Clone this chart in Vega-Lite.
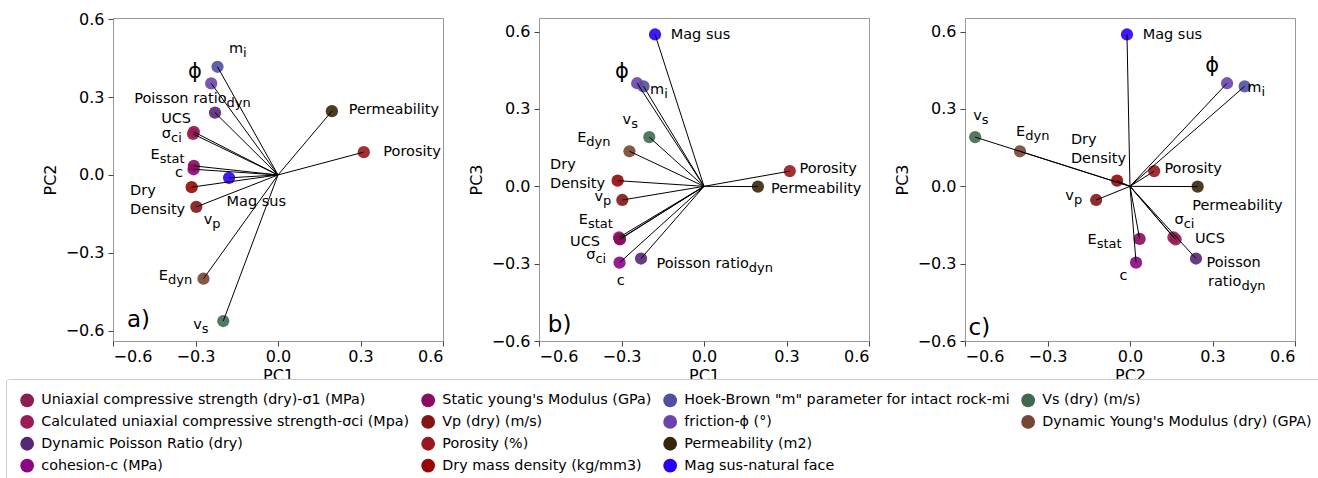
{
  "$schema": "https://vega.github.io/schema/vega-lite/v6.json",
  "autosize": {"type": "pad"},
  "padding": {"left": 5, "top": 10, "right": 5, "bottom": 0},
  "background": "white",
  "config": {
    "font": "DejaVu Sans",
    "view": {"stroke": "#999999", "strokeWidth": 1},
    "axis": {
      "labelFont": "DejaVu Sans", "labelFontSize": 16, "labelColor": "black",
      "titleFont": "DejaVu Sans", "titleFontSize": 16, "titleFontWeight": "normal", "titleColor": "black",
      "tickColor": "#444444", "tickSize": 5, "domain": false, "grid": false
    },
    "axisX": {"labelPadding": 2, "titlePadding": 3},
    "axisY": {"labelPadding": 4, "titlePadding": 7},
    "text": {"font": "DejaVu Sans", "color": "black"}
  },
  "datasets": {
    "pts": [
      {"name": "Uniaxial compressive strength (dry)-σ1 (MPa)", "PC1": -0.306, "PC2": 0.166, "PC3": -0.206},
      {"name": "Calculated uniaxial compressive strength-σci (Mpa)", "PC1": -0.309, "PC2": 0.158, "PC3": -0.198},
      {"name": "Dynamic Poisson Ratio (dry)", "PC1": -0.229, "PC2": 0.240, "PC3": -0.280},
      {"name": "cohesion-c (MPa)", "PC1": -0.307, "PC2": 0.022, "PC3": -0.296},
      {"name": "Static young's Modulus (GPa)", "PC1": -0.306, "PC2": 0.035, "PC3": -0.204},
      {"name": "Vp (dry) (m/s)", "PC1": -0.297, "PC2": -0.123, "PC3": -0.053},
      {"name": "Porosity (%)", "PC1": 0.312, "PC2": 0.088, "PC3": 0.059},
      {"name": "Dry mass density (kg/mm3)", "PC1": -0.314, "PC2": -0.047, "PC3": 0.022},
      {"name": "Hoek-Brown \"m\" parameter for intact rock-mi", "PC1": -0.220, "PC2": 0.417, "PC3": 0.388},
      {"name": "friction-ϕ (°)", "PC1": -0.243, "PC2": 0.353, "PC3": 0.400},
      {"name": "Permeability (m2)", "PC1": 0.196, "PC2": 0.246, "PC3": -0.001},
      {"name": "Mag sus-natural face", "PC1": -0.178, "PC2": -0.011, "PC3": 0.589},
      {"name": "Vs (dry) (m/s)", "PC1": -0.199, "PC2": -0.563, "PC3": 0.191},
      {"name": "Dynamic Young's Modulus (dry) (GPA)", "PC1": -0.271, "PC2": -0.400, "PC3": 0.136}
    ],
    "labs": [
      {"p": "a", "main": "m", "sub": "i", "lx": -0.127, "ly": 0.472},
      {"p": "a", "sym": "ϕ", "lx": -0.327, "ly": 0.375},
      {"p": "a", "main": "Poisson ratio", "sub": "dyn", "lx": -0.187, "ly": 0.277},
      {"p": "a", "plain": "UCS", "lx": -0.425, "ly": 0.2},
      {"p": "a", "main": "σ", "sub": "ci", "lx": -0.389, "ly": 0.141},
      {"p": "a", "main": "E", "sub": "stat", "lx": -0.430, "ly": 0.062},
      {"p": "a", "plain": "c", "lx": -0.375, "ly": -0.009},
      {"p": "a", "plain": "Dry\nDensity", "lx": -0.538, "ly": -0.076},
      {"p": "a", "plain": "Mag sus", "lx": -0.187, "ly": -0.118},
      {"p": "a", "main": "v", "sub": "p", "lx": -0.239, "ly": -0.188},
      {"p": "a", "main": "E", "sub": "dyn", "lx": -0.40, "ly": -0.404},
      {"p": "a", "main": "v", "sub": "s", "lx": -0.277, "ly": -0.592},
      {"p": "a", "plain": "Permeability", "lx": 0.257, "ly": 0.235},
      {"p": "a", "plain": "Porosity", "lx": 0.383, "ly": 0.074},
      {"p": "a", "tag": "a)", "lx": -0.549, "ly": -0.585},
      {"p": "b", "plain": "Mag sus", "lx": -0.121, "ly": 0.570},
      {"p": "b", "sym": "ϕ", "lx": -0.324, "ly": 0.422},
      {"p": "b", "main": "m", "sub": "i", "lx": -0.145, "ly": 0.360},
      {"p": "b", "main": "v", "sub": "s", "lx": -0.265, "ly": 0.243},
      {"p": "b", "main": "E", "sub": "dyn", "lx": -0.428, "ly": 0.171},
      {"p": "b", "plain": "Dry\nDensity", "lx": -0.56, "ly": 0.067},
      {"p": "b", "main": "v", "sub": "p", "lx": -0.367, "ly": -0.056},
      {"p": "b", "main": "E", "sub": "stat", "lx": -0.422, "ly": -0.147},
      {"p": "b", "plain": "UCS", "lx": -0.487, "ly": -0.232},
      {"p": "b", "main": "σ", "sub": "ci", "lx": -0.395, "ly": -0.282},
      {"p": "b", "plain": "c", "lx": -0.317, "ly": -0.381},
      {"p": "b", "main": "Poisson ratio", "sub": "dyn", "lx": 0.163, "ly": -0.316},
      {"p": "b", "plain": "Porosity", "lx": 0.347, "ly": 0.051},
      {"p": "b", "plain": "Permeability", "lx": 0.244, "ly": -0.027},
      {"p": "b", "tag": "b)", "lx": -0.568, "ly": -0.566},
      {"p": "c", "plain": "Mag sus", "lx": 0.046, "ly": 0.570},
      {"p": "c", "sym": "ϕ", "lx": 0.274, "ly": 0.442},
      {"p": "c", "main": "m", "sub": "i", "lx": 0.478, "ly": 0.364},
      {"p": "c", "main": "v", "sub": "s", "lx": -0.539, "ly": 0.256},
      {"p": "c", "main": "E", "sub": "dyn", "lx": -0.381, "ly": 0.197},
      {"p": "c", "plain": "Dry\nDensity", "lx": -0.215, "ly": 0.165},
      {"p": "c", "plain": "Porosity", "lx": 0.125, "ly": 0.052},
      {"p": "c", "plain": "Permeability", "lx": 0.226, "ly": -0.091},
      {"p": "c", "main": "v", "sub": "p", "lx": -0.204, "ly": -0.053},
      {"p": "c", "main": "σ", "sub": "ci", "lx": 0.195, "ly": -0.147},
      {"p": "c", "plain": "UCS", "lx": 0.236, "ly": -0.221},
      {"p": "c", "main": "E", "sub": "stat", "lx": -0.121, "ly": -0.225},
      {"p": "c", "plain": "c", "lx": -0.038, "ly": -0.364},
      {"p": "c", "plain": "Poisson", "lx": 0.278, "ly": -0.312},
      {"p": "c", "main": "ratio", "sub": "dyn", "lx": 0.405, "ly": -0.387},
      {"p": "c", "tag": "c)", "lx": -0.587, "ly": -0.575}
    ]
  },
  "bounds": "flush",
  "spacing": 96,
  "resolve": {"scale": {"color": "shared"}},
  "hconcat": [
    {
      "width": 330, "height": 323,
      "layer": [
        {"data": {"name": "pts"}, "mark": {"type": "circle", "size": 150, "opacity": 0.9},
          "encoding": {
            "x": {"field": "PC1", "type": "quantitative", "title": "PC1", "scale": {"domain": [-0.6, 0.6], "nice": false, "zero": false}, "axis": {"values": [-0.6, -0.3, 0, 0.3, 0.6], "format": ".1f"}},
            "y": {"field": "PC2", "type": "quantitative", "title": "PC2", "scale": {"domain": [-0.64, 0.605], "nice": false, "zero": false}, "axis": {"values": [-0.6, -0.3, 0, 0.3, 0.6], "format": ".1f"}},
            "color": {"field": "name", "type": "nominal", "title": null,
              "scale": {"domain": ["Uniaxial compressive strength (dry)-σ1 (MPa)", "Calculated uniaxial compressive strength-σci (Mpa)", "Dynamic Poisson Ratio (dry)", "cohesion-c (MPa)", "Static young's Modulus (GPa)", "Vp (dry) (m/s)", "Porosity (%)", "Dry mass density (kg/mm3)", "Hoek-Brown \"m\" parameter for intact rock-mi", "friction-ϕ (°)", "Permeability (m2)", "Mag sus-natural face", "Vs (dry) (m/s)", "Dynamic Young's Modulus (dry) (GPA)", "_b1", "_b2"],
                "range": ["#8b1f52", "#981c58", "#552878", "#8c0584", "#8c0a62", "#821616", "#981820", "#960808", "#5050a2", "#6a44ac", "#38260a", "#2a00f5", "#3f6a50", "#784634", "rgba(0,0,0,0)", "rgba(0,0,0,0)"]},
              "legend": {"orient": "none", "legendX": -107, "legendY": 361, "columns": 4, "symbolType": "circle", "symbolSize": 190, "symbolOpacity": 1, "symbolStrokeWidth": 0, "labelFont": "DejaVu Sans", "labelFontSize": 14.3, "labelColor": "black", "labelLimit": 600, "labelOffset": 7, "padding": 14, "rowPadding": 6.8, "columnPadding": 11, "strokeColor": "#cccccc", "fillColor": "white", "cornerRadius": 3, "labelExpr": "indexof(datum.label, '_b') === 0 ? '' : datum.label"}}
          }},
        {"data": {"name": "pts"}, "mark": {"type": "rule", "color": "black", "strokeWidth": 1},
          "encoding": {"x": {"field": "PC1", "type": "quantitative", "title": "PC1"}, "y": {"field": "PC2", "type": "quantitative", "title": "PC2"}, "x2": {"datum": 0}, "y2": {"datum": 0}}},
        {"data": {"name": "labs"}, "transform": [{"filter": "datum.p === 'a' && isValid(datum.main)"}], "mark": {"type": "text", "align": "right", "baseline": "alphabetic", "fontSize": 14.5},
          "encoding": {"x": {"field": "lx", "type": "quantitative", "title": "PC1"}, "y": {"field": "ly", "type": "quantitative", "title": "PC2"}, "text": {"field": "main", "type": "nominal"}}},
        {"data": {"name": "labs"}, "transform": [{"filter": "datum.p === 'a' && isValid(datum.sub)"}], "mark": {"type": "text", "align": "left", "baseline": "alphabetic", "fontSize": 13, "dy": 4},
          "encoding": {"x": {"field": "lx", "type": "quantitative", "title": "PC1"}, "y": {"field": "ly", "type": "quantitative", "title": "PC2"}, "text": {"field": "sub", "type": "nominal"}}},
        {"data": {"name": "labs"}, "transform": [{"filter": "datum.p === 'a' && isValid(datum.plain)"}], "mark": {"type": "text", "align": "left", "baseline": "alphabetic", "fontSize": 14.5, "lineBreak": "\n", "lineHeight": 19},
          "encoding": {"x": {"field": "lx", "type": "quantitative", "title": "PC1"}, "y": {"field": "ly", "type": "quantitative", "title": "PC2"}, "text": {"field": "plain", "type": "nominal"}}},
        {"data": {"name": "labs"}, "transform": [{"filter": "datum.p === 'a' && isValid(datum.sym)"}], "mark": {"type": "text", "align": "left", "baseline": "alphabetic", "fontSize": 21},
          "encoding": {"x": {"field": "lx", "type": "quantitative", "title": "PC1"}, "y": {"field": "ly", "type": "quantitative", "title": "PC2"}, "text": {"field": "sym", "type": "nominal"}}},
        {"data": {"name": "labs"}, "transform": [{"filter": "datum.p === 'a' && isValid(datum.tag)"}], "mark": {"type": "text", "align": "left", "baseline": "alphabetic", "fontSize": 23},
          "encoding": {"x": {"field": "lx", "type": "quantitative", "title": "PC1"}, "y": {"field": "ly", "type": "quantitative", "title": "PC2"}, "text": {"field": "tag", "type": "nominal"}}}
      ]
    },
    {
      "width": 330, "height": 323,
      "layer": [
        {"data": {"name": "pts"}, "mark": {"type": "circle", "size": 150, "opacity": 0.9},
          "encoding": {
            "x": {"field": "PC1", "type": "quantitative", "title": "PC1", "scale": {"domain": [-0.6, 0.6], "nice": false, "zero": false}, "axis": {"values": [-0.6, -0.3, 0, 0.3, 0.6], "format": ".1f"}},
            "y": {"field": "PC3", "type": "quantitative", "title": "PC3", "scale": {"domain": [-0.6, 0.653], "nice": false, "zero": false}, "axis": {"values": [-0.6, -0.3, 0, 0.3, 0.6], "format": ".1f"}},
            "color": {"field": "name", "type": "nominal", "title": null,
              "scale": {"domain": ["Uniaxial compressive strength (dry)-σ1 (MPa)", "Calculated uniaxial compressive strength-σci (Mpa)", "Dynamic Poisson Ratio (dry)", "cohesion-c (MPa)", "Static young's Modulus (GPa)", "Vp (dry) (m/s)", "Porosity (%)", "Dry mass density (kg/mm3)", "Hoek-Brown \"m\" parameter for intact rock-mi", "friction-ϕ (°)", "Permeability (m2)", "Mag sus-natural face", "Vs (dry) (m/s)", "Dynamic Young's Modulus (dry) (GPA)", "_b1", "_b2"],
                "range": ["#8b1f52", "#981c58", "#552878", "#8c0584", "#8c0a62", "#821616", "#981820", "#960808", "#5050a2", "#6a44ac", "#38260a", "#2a00f5", "#3f6a50", "#784634", "rgba(0,0,0,0)", "rgba(0,0,0,0)"]},
              "legend": {"orient": "none", "legendX": -107, "legendY": 361, "columns": 4, "symbolType": "circle", "symbolSize": 190, "symbolOpacity": 1, "symbolStrokeWidth": 0, "labelFont": "DejaVu Sans", "labelFontSize": 14.3, "labelColor": "black", "labelLimit": 600, "labelOffset": 7, "padding": 14, "rowPadding": 6.8, "columnPadding": 11, "strokeColor": "#cccccc", "fillColor": "white", "cornerRadius": 3, "labelExpr": "indexof(datum.label, '_b') === 0 ? '' : datum.label"}}
          }},
        {"data": {"name": "pts"}, "mark": {"type": "rule", "color": "black", "strokeWidth": 1},
          "encoding": {"x": {"field": "PC1", "type": "quantitative", "title": "PC1"}, "y": {"field": "PC3", "type": "quantitative", "title": "PC3"}, "x2": {"datum": 0}, "y2": {"datum": 0}}},
        {"data": {"name": "labs"}, "transform": [{"filter": "datum.p === 'b' && isValid(datum.main)"}], "mark": {"type": "text", "align": "right", "baseline": "alphabetic", "fontSize": 14.5},
          "encoding": {"x": {"field": "lx", "type": "quantitative", "title": "PC1"}, "y": {"field": "ly", "type": "quantitative", "title": "PC3"}, "text": {"field": "main", "type": "nominal"}}},
        {"data": {"name": "labs"}, "transform": [{"filter": "datum.p === 'b' && isValid(datum.sub)"}], "mark": {"type": "text", "align": "left", "baseline": "alphabetic", "fontSize": 13, "dy": 4},
          "encoding": {"x": {"field": "lx", "type": "quantitative", "title": "PC1"}, "y": {"field": "ly", "type": "quantitative", "title": "PC3"}, "text": {"field": "sub", "type": "nominal"}}},
        {"data": {"name": "labs"}, "transform": [{"filter": "datum.p === 'b' && isValid(datum.plain)"}], "mark": {"type": "text", "align": "left", "baseline": "alphabetic", "fontSize": 14.5, "lineBreak": "\n", "lineHeight": 19},
          "encoding": {"x": {"field": "lx", "type": "quantitative", "title": "PC1"}, "y": {"field": "ly", "type": "quantitative", "title": "PC3"}, "text": {"field": "plain", "type": "nominal"}}},
        {"data": {"name": "labs"}, "transform": [{"filter": "datum.p === 'b' && isValid(datum.sym)"}], "mark": {"type": "text", "align": "left", "baseline": "alphabetic", "fontSize": 21},
          "encoding": {"x": {"field": "lx", "type": "quantitative", "title": "PC1"}, "y": {"field": "ly", "type": "quantitative", "title": "PC3"}, "text": {"field": "sym", "type": "nominal"}}},
        {"data": {"name": "labs"}, "transform": [{"filter": "datum.p === 'b' && isValid(datum.tag)"}], "mark": {"type": "text", "align": "left", "baseline": "alphabetic", "fontSize": 23},
          "encoding": {"x": {"field": "lx", "type": "quantitative", "title": "PC1"}, "y": {"field": "ly", "type": "quantitative", "title": "PC3"}, "text": {"field": "tag", "type": "nominal"}}}
      ]
    },
    {
      "width": 330, "height": 323,
      "layer": [
        {"data": {"name": "pts"}, "mark": {"type": "circle", "size": 150, "opacity": 0.9},
          "encoding": {
            "x": {"field": "PC2", "type": "quantitative", "title": "PC2", "scale": {"domain": [-0.6, 0.6], "nice": false, "zero": false}, "axis": {"values": [-0.6, -0.3, 0, 0.3, 0.6], "format": ".1f"}},
            "y": {"field": "PC3", "type": "quantitative", "title": "PC3", "scale": {"domain": [-0.6, 0.653], "nice": false, "zero": false}, "axis": {"values": [-0.6, -0.3, 0, 0.3, 0.6], "format": ".1f"}},
            "color": {"field": "name", "type": "nominal", "title": null,
              "scale": {"domain": ["Uniaxial compressive strength (dry)-σ1 (MPa)", "Calculated uniaxial compressive strength-σci (Mpa)", "Dynamic Poisson Ratio (dry)", "cohesion-c (MPa)", "Static young's Modulus (GPa)", "Vp (dry) (m/s)", "Porosity (%)", "Dry mass density (kg/mm3)", "Hoek-Brown \"m\" parameter for intact rock-mi", "friction-ϕ (°)", "Permeability (m2)", "Mag sus-natural face", "Vs (dry) (m/s)", "Dynamic Young's Modulus (dry) (GPA)", "_b1", "_b2"],
                "range": ["#8b1f52", "#981c58", "#552878", "#8c0584", "#8c0a62", "#821616", "#981820", "#960808", "#5050a2", "#6a44ac", "#38260a", "#2a00f5", "#3f6a50", "#784634", "rgba(0,0,0,0)", "rgba(0,0,0,0)"]},
              "legend": {"orient": "none", "legendX": -107, "legendY": 361, "columns": 4, "symbolType": "circle", "symbolSize": 190, "symbolOpacity": 1, "symbolStrokeWidth": 0, "labelFont": "DejaVu Sans", "labelFontSize": 14.3, "labelColor": "black", "labelLimit": 600, "labelOffset": 7, "padding": 14, "rowPadding": 6.8, "columnPadding": 11, "strokeColor": "#cccccc", "fillColor": "white", "cornerRadius": 3, "labelExpr": "indexof(datum.label, '_b') === 0 ? '' : datum.label"}}
          }},
        {"data": {"name": "pts"}, "mark": {"type": "rule", "color": "black", "strokeWidth": 1},
          "encoding": {"x": {"field": "PC2", "type": "quantitative", "title": "PC2"}, "y": {"field": "PC3", "type": "quantitative", "title": "PC3"}, "x2": {"datum": 0}, "y2": {"datum": 0}}},
        {"data": {"name": "labs"}, "transform": [{"filter": "datum.p === 'c' && isValid(datum.main)"}], "mark": {"type": "text", "align": "right", "baseline": "alphabetic", "fontSize": 14.5},
          "encoding": {"x": {"field": "lx", "type": "quantitative", "title": "PC2"}, "y": {"field": "ly", "type": "quantitative", "title": "PC3"}, "text": {"field": "main", "type": "nominal"}}},
        {"data": {"name": "labs"}, "transform": [{"filter": "datum.p === 'c' && isValid(datum.sub)"}], "mark": {"type": "text", "align": "left", "baseline": "alphabetic", "fontSize": 13, "dy": 4},
          "encoding": {"x": {"field": "lx", "type": "quantitative", "title": "PC2"}, "y": {"field": "ly", "type": "quantitative", "title": "PC3"}, "text": {"field": "sub", "type": "nominal"}}},
        {"data": {"name": "labs"}, "transform": [{"filter": "datum.p === 'c' && isValid(datum.plain)"}], "mark": {"type": "text", "align": "left", "baseline": "alphabetic", "fontSize": 14.5, "lineBreak": "\n", "lineHeight": 19},
          "encoding": {"x": {"field": "lx", "type": "quantitative", "title": "PC2"}, "y": {"field": "ly", "type": "quantitative", "title": "PC3"}, "text": {"field": "plain", "type": "nominal"}}},
        {"data": {"name": "labs"}, "transform": [{"filter": "datum.p === 'c' && isValid(datum.sym)"}], "mark": {"type": "text", "align": "left", "baseline": "alphabetic", "fontSize": 21},
          "encoding": {"x": {"field": "lx", "type": "quantitative", "title": "PC2"}, "y": {"field": "ly", "type": "quantitative", "title": "PC3"}, "text": {"field": "sym", "type": "nominal"}}},
        {"data": {"name": "labs"}, "transform": [{"filter": "datum.p === 'c' && isValid(datum.tag)"}], "mark": {"type": "text", "align": "left", "baseline": "alphabetic", "fontSize": 23},
          "encoding": {"x": {"field": "lx", "type": "quantitative", "title": "PC2"}, "y": {"field": "ly", "type": "quantitative", "title": "PC3"}, "text": {"field": "tag", "type": "nominal"}}}
      ]
    }
  ]
}
